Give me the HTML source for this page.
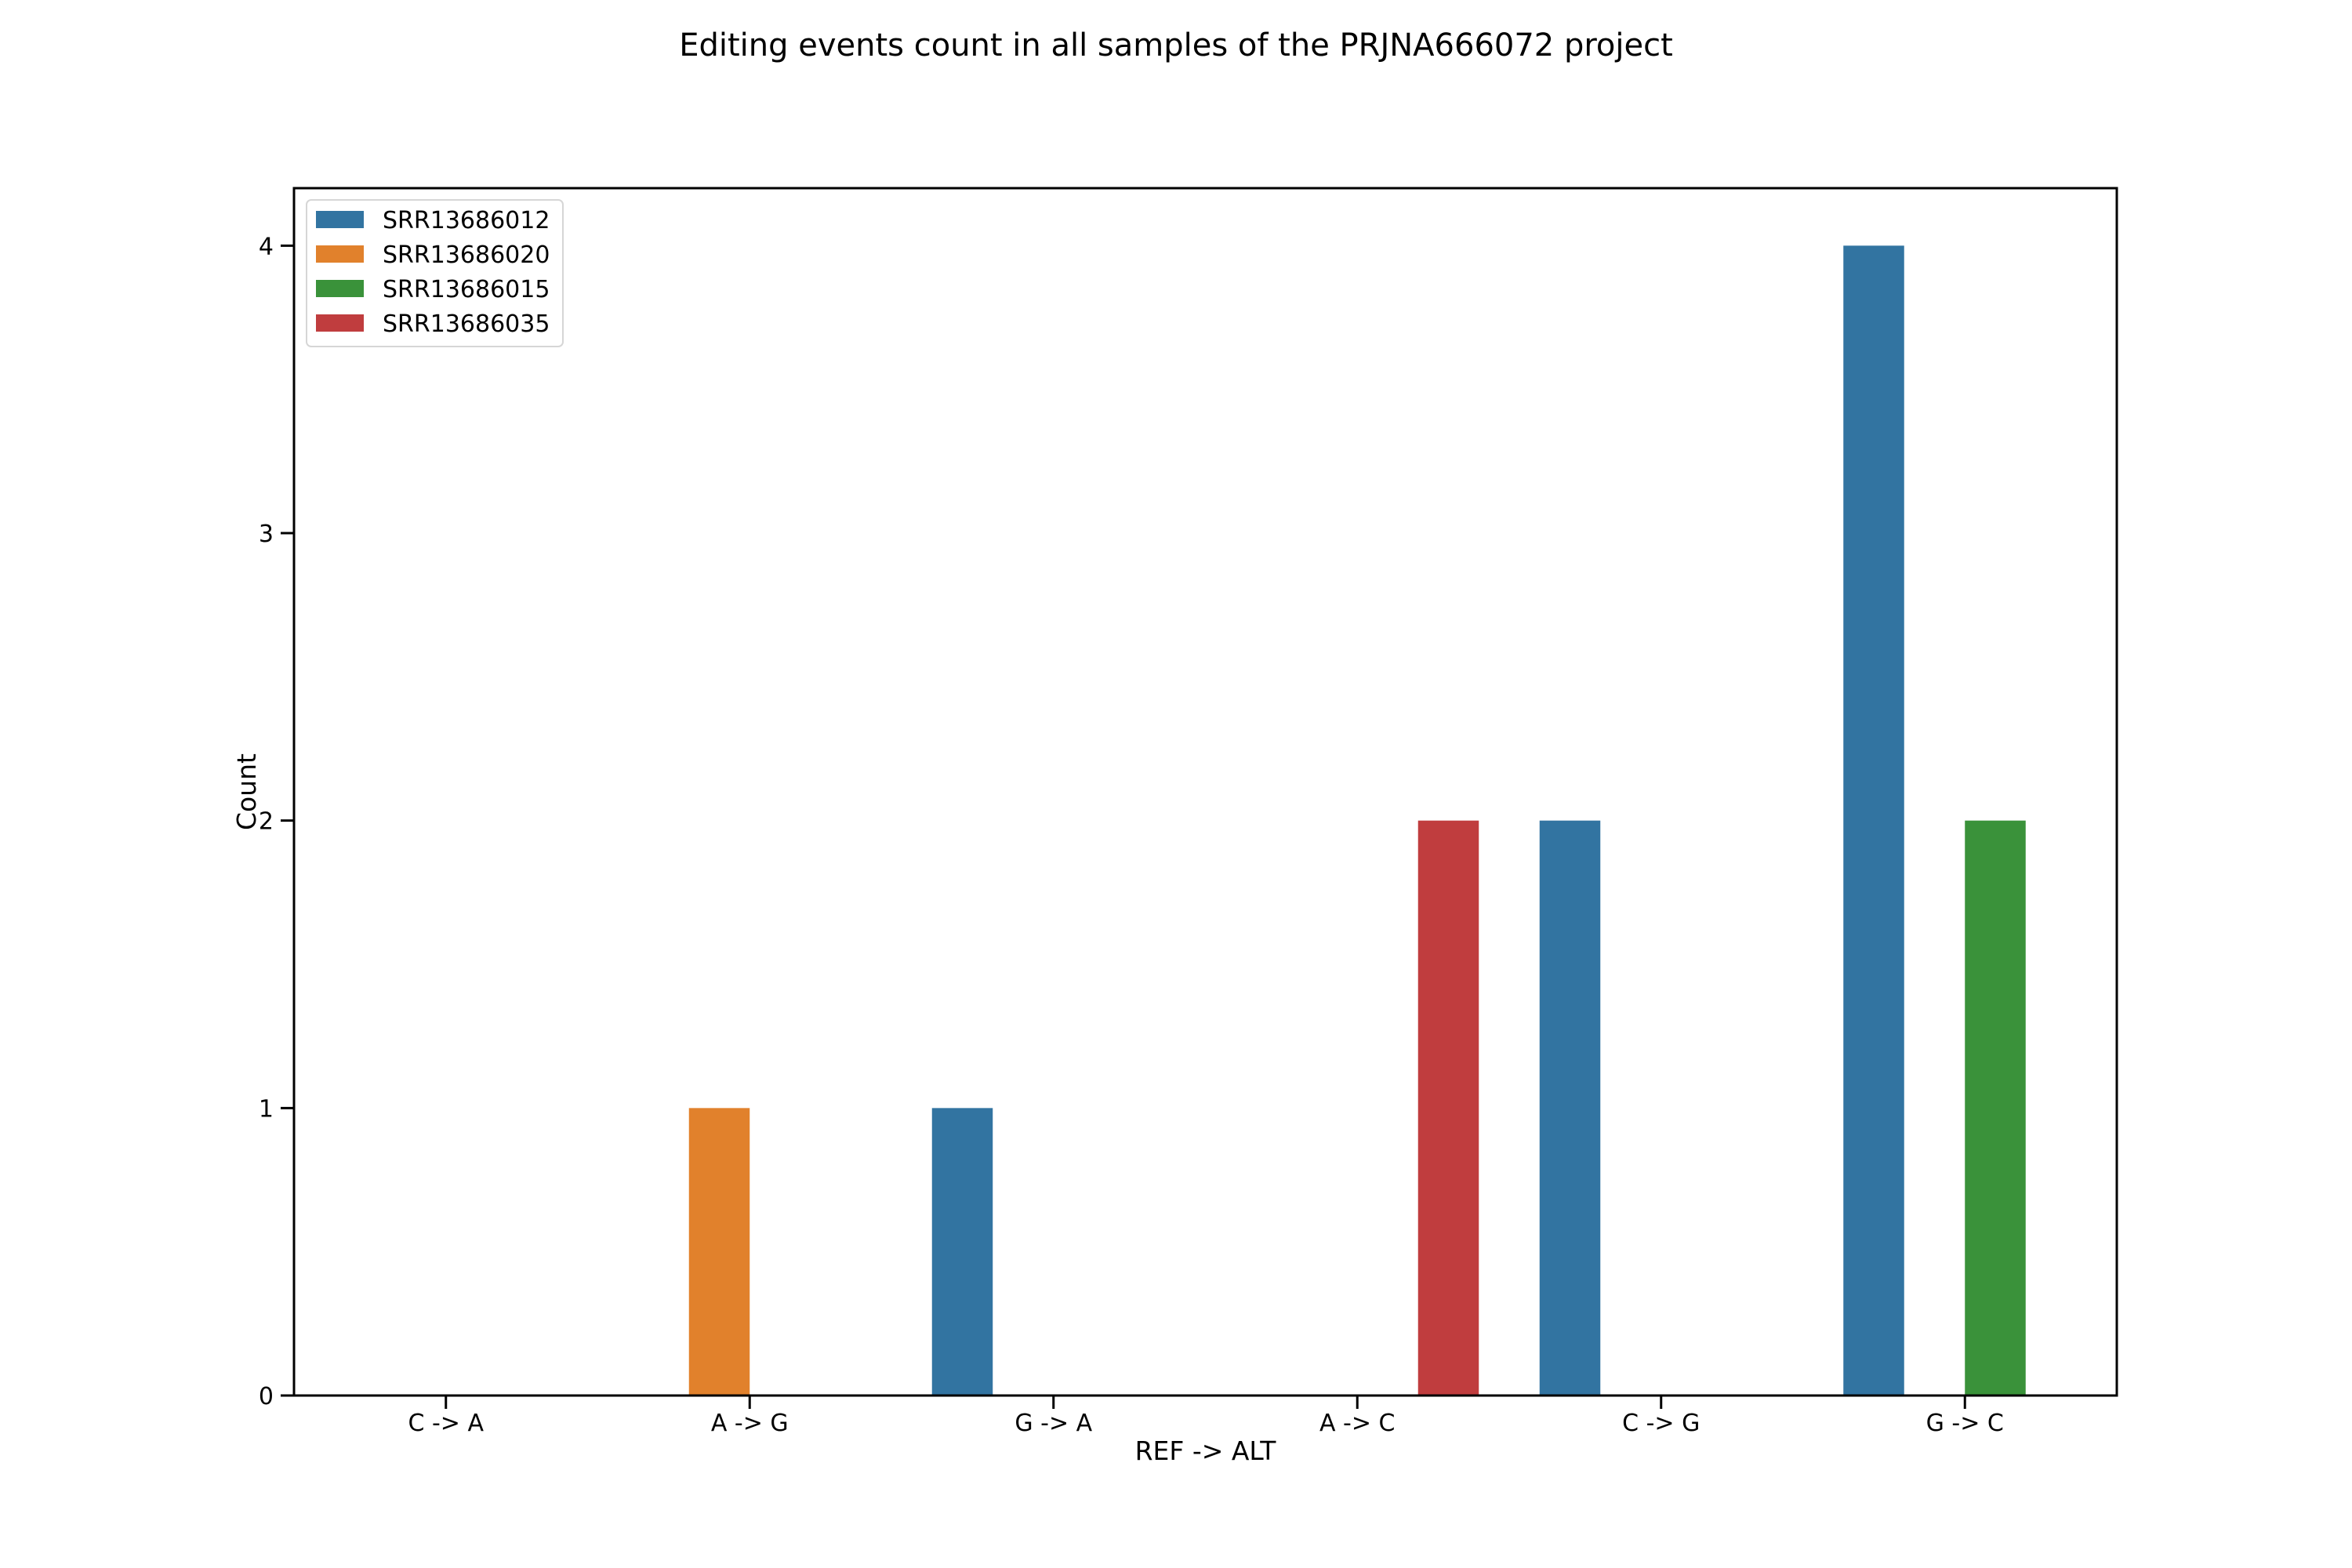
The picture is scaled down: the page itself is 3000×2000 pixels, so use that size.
<!DOCTYPE html>
<html><head><meta charset="utf-8"><style>
html,body{margin:0;padding:0;background:#fff;}
svg{display:block;font-family:"DejaVu Sans","Liberation Sans",sans-serif;}
</style></head><body>
<svg id="chart" width="3000" height="2000" xmlns="http://www.w3.org/2000/svg">
<rect width="3000" height="2000" fill="#fff"/>
<text x="1500" y="71" font-size="40" text-anchor="middle">Editing events count in all samples of the PRJNA666072 project</text>
<g id="plot"></g>
</svg>
<script>
const categories = ["C -> A","A -> G","G -> A","A -> C","C -> G","G -> C"];
const seriesNames = ["SRR13686012","SRR13686020","SRR13686015","SRR13686035"];
const s012 = [0,0,1,0,2,4];
const s020 = [0,1,0,0,0,0];
const s015 = [0,0,0,0,0,2];
const s035 = [0,0,0,2,0,0];
const yTicks = [0,1,2,3,4];
const seriesValues = [s012,s020,s015,s035];
const colors = ["#3274a1","#e1812c","#3a923a","#c03d3e"];

const L=375,R=2700,T=240,B=1780,yMax=4.2;
const ns="http://www.w3.org/2000/svg";
const g=document.getElementById('plot');
const step=(R-L)/categories.length;
function xPos(i){return L+step*(i+0.5);}
function yPos(v){return B-(v/yMax)*(B-T);}
function mk(tag,attrs,text){const e=document.createElementNS(ns,tag);for(const k in attrs)e.setAttribute(k,attrs[k]);if(text!==undefined)e.textContent=text;g.appendChild(e);return e;}

const bw=step*0.8/seriesValues.length;
seriesValues.forEach((vals,s)=>{
  vals.forEach((v,i)=>{
    if(v<=0)return;
    const x=xPos(i)-step*0.4+bw*s;
    const r=mk('rect',{x:x,y:yPos(v),width:bw,height:yPos(0)-yPos(v),fill:colors[s]});
    
    
  });
});
const fr=mk('rect',{x:L,y:T,width:R-L,height:B-T,fill:'none',stroke:'#000','stroke-width':3});


yTicks.forEach(t=>{
  const y=yPos(t);
  const l=mk('line',{x1:L-17,x2:L,y1:y,y2:y,stroke:'#000','stroke-width':3});
  
  
  const tx=mk('text',{x:L-26,y:y+11,'font-size':30,'text-anchor':'end'},String(t));
  
  
});
categories.forEach((c,i)=>{
  const x=xPos(i);
  const l=mk('line',{x1:x,x2:x,y1:B,y2:B+17,stroke:'#000','stroke-width':3});
  
  
  const tx=mk('text',{x:x,y:1825,'font-size':30,'text-anchor':'middle'},c);
  
  
});
const xl=mk('text',{x:(L+R)/2,y:1862,'font-size':33,'text-anchor':'middle'},'REF -> ALT');


const yl=mk('text',{x:0,y:0,'font-size':33,'text-anchor':'middle',transform:'translate(326,'+((T+B)/2)+') rotate(-90)'},'Count');


const lg=mk('rect',{x:391,y:255,width:327,height:187,rx:6,fill:'#fff','fill-opacity':0.8,stroke:'#d6d6d6','stroke-width':2});


seriesNames.forEach((n,s)=>{
  const cy=280+44*s;
  const p=mk('rect',{x:403,y:cy-11,width:61,height:22,fill:colors[s]});
  
  
  const t=mk('text',{x:488,y:cy+11,'font-size':30},n);
  
  
});
</script>
</body></html>
